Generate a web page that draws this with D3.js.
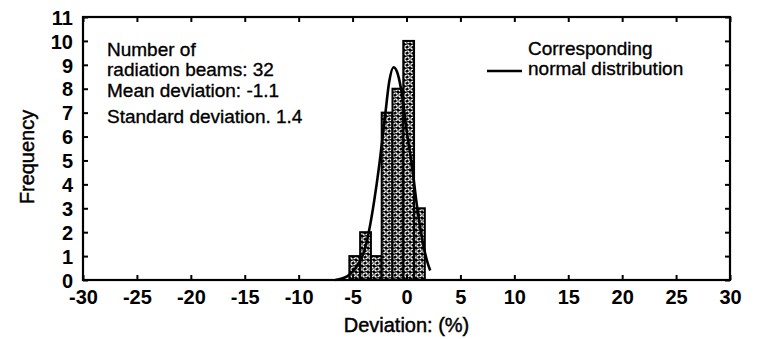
<!DOCTYPE html>
<html>
<head>
<meta charset="utf-8">
<script src="https://cdn.jsdelivr.net/npm/d3@7"></script>
<style>
  body { margin: 0; background: #fff; }
  text { font-family: "Liberation Sans", Arial, sans-serif; fill: #000; }
  .tick-label { font-size: 20px; font-weight: bold; }
  .note { font-size: 19px; stroke: #000; stroke-width: 0.35px; }
  .title { font-size: 20px; stroke: #000; stroke-width: 0.45px; }
</style>
</head>
<body>
<div id="chart"></div>
<script>
// Histogram bins (left edge, count), bin width = 1
const binStarts = [-5.3, -4.3, -3.3, -2.3, -1.3, -0.3, 0.7];
const counts = [1, 2, 1, 7, 8, 10, 3];
const binWidth = 1;

// Normal curve
const curveX = [-6.6, -6.0, -5.5, -5.0, -4.5, -4.0, -3.5, -3.0, -2.5, -2.0, -1.6, -1.2, -0.8, -0.4, 0.0, 0.5, 1.0, 1.5, 2.0, 2.2];
const curveY = [0, 0.06, 0.15, 0.35, 0.65, 1.1, 2.0, 3.3, 4.9, 6.8, 8.3, 8.9, 8.6, 7.7, 6.3, 4.8, 3.0, 1.6, 0.65, 0.4];

const xTicks = [-30, -25, -20, -15, -10, -5, 0, 5, 10, 15, 20, 25, 30];
const yTicks = [0, 1, 2, 3, 4, 5, 6, 7, 8, 9, 10, 11];

const notes = ["Number of", "radiation beams: 32", "Mean deviation: -1.1", "Standard deviation. 1.4"];
const legendLines = ["Corresponding", "normal distribution"];

// Dimensions and margins
const W = 757, H = 339;
const margin = { top: 17, right: 27, bottom: 59, left: 83 },
    width = W - margin.left - margin.right,
    height = H - margin.top - margin.bottom;

const svg = d3.select("#chart")
    .append("svg")
    .attr("width", W)
    .attr("height", H);

// Fill pattern for bars (black with white wavy crosses)
const defs = svg.append("defs");
const pat = defs.append("pattern")
    .attr("id", "weave")
    .attr("patternUnits", "userSpaceOnUse")
    .attr("width", 6)
    .attr("height", 6);
pat.append("rect").attr("width", 6).attr("height", 6).attr("fill", "#000");
pat.append("path")
    .attr("d", "M0.5,2 L3,0.5 M3.5,5.5 L5.8,4 M0.5,3.5 L2.5,5.5 M3.5,0.5 L5.5,2.5")
    .attr("stroke", "#fff")
    .attr("stroke-width", 1.4)
    .attr("fill", "none");

const g = svg.append("g")
    .attr("transform", `translate(${margin.left},${margin.top})`);

// Scales
const x = d3.scaleLinear().domain([-30, 30]).range([0, width]);
const y = d3.scaleLinear().domain([0, 11]).range([height, 0]);

// Bars
g.selectAll(".bar")
    .data(counts)
    .enter()
    .append("rect")
    .attr("class", "bar")
    .attr("x", (d, i) => x(binStarts[i]))
    .attr("width", (d, i) => x(binStarts[i] + binWidth) - x(binStarts[i]))
    .attr("y", d => y(d))
    .attr("height", d => y(0) - y(d))
    .attr("fill", "url(#weave)")
    .attr("stroke", "#000")
    .attr("stroke-width", 2);

// Normal curve
g.append("path")
    .datum(curveX.map((v, i) => [v, curveY[i]]))
    .attr("fill", "none")
    .attr("stroke", "#000")
    .attr("stroke-width", 2.6)
    .attr("d", d3.line()
        .x(d => x(d[0]))
        .y(d => y(d[1]))
        .curve(d3.curveMonotoneX));

// Axes (ticks inside, on all four sides)
const tickLen = 5;
g.append("g")
    .attr("transform", `translate(0,${height})`)
    .call(d3.axisBottom(x).tickValues(xTicks).tickSize(-tickLen).tickSizeOuter(0).tickPadding(10)
        .tickFormat(d => String(d)))
    .call(a => a.selectAll("text").attr("class", "tick-label").attr("dy", "0.72em"));
g.append("g")
    .call(d3.axisTop(x).tickValues(xTicks).tickSize(-tickLen).tickSizeOuter(0).tickFormat(""));
g.append("g")
    .call(d3.axisLeft(y).tickValues(yTicks).tickSize(-tickLen).tickSizeOuter(0).tickPadding(10)
        .tickFormat(d => String(d)))
    .call(a => a.selectAll("text").attr("class", "tick-label").attr("dy", "0.36em"));
g.append("g")
    .attr("transform", `translate(${width},0)`)
    .call(d3.axisRight(y).tickValues(yTicks).tickSize(-tickLen).tickSizeOuter(0).tickFormat(""));

g.selectAll(".domain").remove();
g.selectAll(".tick line").attr("stroke", "#000").attr("stroke-width", 2);
g.selectAll(".tick text").attr("font-family", null).attr("font-size", null);

// Frame
g.append("rect")
    .attr("width", width)
    .attr("height", height)
    .attr("fill", "none")
    .attr("stroke", "#000")
    .attr("stroke-width", 2.2);

// Axis titles
svg.append("text")
    .attr("class", "title")
    .attr("x", margin.left + x(0))
    .attr("y", 332)
    .attr("text-anchor", "middle")
    .text("Deviation: (%)");

svg.append("text")
    .attr("class", "title")
    .attr("transform", `translate(34,157) rotate(-90)`)
    .attr("text-anchor", "middle")
    .text("Frequency");

// Annotation text
const noteY = [56, 76, 97, 123];
svg.selectAll(".note")
    .data(notes)
    .enter()
    .append("text")
    .attr("class", "note")
    .attr("x", 107)
    .attr("y", (d, i) => noteY[i])
    .text(d => d);

// Legend
svg.append("line")
    .attr("x1", 487).attr("x2", 522)
    .attr("y1", 71).attr("y2", 71)
    .attr("stroke", "#000")
    .attr("stroke-width", 2.6);
svg.selectAll(".legend")
    .data(legendLines)
    .enter()
    .append("text")
    .attr("class", "note legend")
    .attr("x", 528)
    .attr("y", (d, i) => 55 + i * 20)
    .text(d => d);
</script>
</body>
</html>
